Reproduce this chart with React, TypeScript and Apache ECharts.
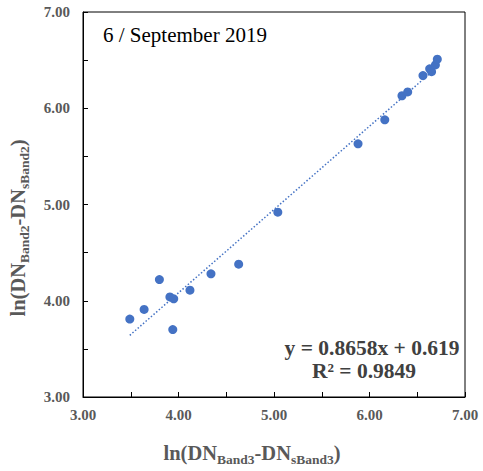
import React, { useEffect, useRef } from "react";
import * as echarts from "echarts";

const xValues = [3.49, 3.64, 3.80, 3.91, 3.95, 3.94, 4.12, 4.34, 4.63, 5.04, 5.88, 6.16, 6.34, 6.40, 6.56, 6.63, 6.65, 6.69, 6.71];
const yValues = [3.81, 3.91, 4.22, 4.04, 4.02, 3.70, 4.11, 4.28, 4.38, 4.92, 5.63, 5.88, 6.13, 6.17, 6.34, 6.41, 6.38, 6.45, 6.51];
const slope = 0.8658;
const intercept = 0.619;
const rSquared = 0.9849;
const trendRange = [3.49, 6.71];
const titleText = "6 / September 2019";
const xTitle = "{m|ln(DN}{s|Band3}{m|-DN}{s|sBand3}{m|)}";
const yTitle = "{m|ln(DN}{s|Band2}{m|-DN}{s|sBand2}{m|)}";

const SERIF = "'Liberation Serif', 'Times New Roman', serif";
const GRAY = "#595959";

export default function App() {
  const ref = useRef<HTMLDivElement>(null);
  useEffect(() => {
    document.body.style.margin = "0";
    const chart = echarts.init(ref.current!, null, { renderer: "svg" });
    const points = xValues.map((x, i) => [x, yValues[i]]);
    const trend = trendRange.map((x) => [x, slope * x + intercept]);
    const rich = {
      m: { fontSize: 20.5, fontWeight: "bold", fontFamily: SERIF, fill: GRAY, color: GRAY, lineHeight: 26 },
      s: { fontSize: 13.5, fontWeight: "bold", fontFamily: SERIF, fill: GRAY, color: GRAY, lineHeight: 13, verticalAlign: "bottom" },
    };
    const eqRich = {
      a: { fontSize: 21.5, lineHeight: 23, fontWeight: "bold", fontFamily: SERIF, fill: "#404040", color: "#404040" },
      b: { fontSize: 21.5, lineHeight: 23, fontWeight: "bold", fontFamily: SERIF, fill: "#404040", color: "#404040", padding: [0, 16, 0, 0] },
    };
    const axisCommon = {
      type: "value",
      min: 3,
      max: 7,
      interval: 0.5,
      axisLine: { show: true, onZero: false, lineStyle: { color: "#000", width: 1 } },
      axisTick: { show: true, inside: true, length: 5, lineStyle: { color: "#000" } },
      splitLine: { show: false },
      axisLabel: {
        fontFamily: SERIF,
        fontWeight: "bold",
        fontSize: 15,
        color: GRAY,
        formatter: (v: number) => (Math.abs(v - Math.round(v)) < 1e-6 ? v.toFixed(2) : ""),
      },
    };
    chart.setOption({
      animation: false,
      grid: { left: 83, right: 18, top: 12, bottom: 74, show: true, borderColor: "#000", borderWidth: 1, backgroundColor: "transparent" },
      xAxis: { ...axisCommon, axisLabel: { ...axisCommon.axisLabel, margin: 10 } },
      yAxis: { ...axisCommon, axisLabel: { ...axisCommon.axisLabel, margin: 13 } },
      graphic: [
        {
          type: "text",
          x: 252,
          y: 440,
          style: { text: xTitle, rich, align: "center", verticalAlign: "top" },
        },
        {
          type: "text",
          x: 18,
          y: 228,
          rotation: Math.PI / 2,
          style: { text: yTitle, rich, align: "center", verticalAlign: "middle" },
        },
        {
          type: "text",
          left: 103,
          top: 24,
          style: { text: titleText, fontFamily: SERIF, fontSize: 21, fill: "#000" },
        },
        {
          type: "text",
          x: 372,
          y: 359,
          style: {
            text: `{a|y = ${slope}x + ${intercept}}\n{b|R² = ${rSquared}}`,
            rich: eqRich,
            align: "center",
            verticalAlign: "middle",
          },
        },
      ],
      series: [
        {
          type: "line",
          data: trend,
          showSymbol: false,
          symbol: "none",
          lineStyle: { color: "#4472C4", width: 1.5, type: [1.5, 2] },
          z: 1,
        },
        {
          type: "scatter",
          data: points,
          symbolSize: 9,
          itemStyle: { color: "#4472C4", opacity: 1 },
          z: 2,
        },
      ],
    });
    return () => chart.dispose();
  }, []);
  return <div ref={ref} style={{ width: 483, height: 471 }} />;
}
